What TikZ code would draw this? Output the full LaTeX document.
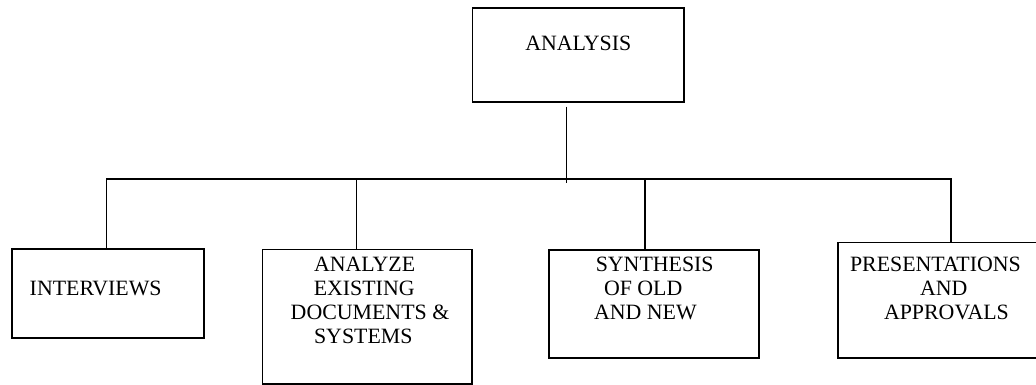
\documentclass[tikz,border=0pt]{standalone}
\usepackage{fontspec}
\setmainfont{Liberation Serif}
\begin{document}
\begin{tikzpicture}[x=0.75pt, y=-0.75pt, line width=1.1pt,
		box/.style={draw, rectangle, anchor=north west, inner sep=0pt, line width=1.4pt},
		lbl/.style={anchor=north west, inner sep=0pt, align=left, font=\fontsize{16.4}{18}\selectfont}]
		\useasboundingbox (0,0) rectangle (1036,385);
		% boxes
		\node[box, minimum width=158.4pt, minimum height=70.6pt] (analysis) at (471.5,7.3) {};
		\node[box, minimum width=144pt, minimum height=66.5pt] (interv) at (10.7,248) {};
		\node[box, minimum width=156.9pt, minimum height=101.1pt] (existing) at (261.5,248.5) {};
		\node[box, minimum width=157.3pt, minimum height=80.8pt] (synth) at (548.3,249) {};
		\node[box, minimum width=148.9pt, minimum height=86.4pt] (present) at (837,241.5) {};
		% texts
		\node[lbl, anchor=north] (analysistxt) at (578.3,35) {ANALYSIS};
		\node[lbl] (intervtxt) at (29,280) {INTERVIEWS};
		\node[lbl] (existingtxt) at (290,256.7) {\hspace*{17.5pt}ANALYZE\\ \hspace*{17.3pt}EXISTING\\ DOCUMENTS \&\\ \hspace*{17.5pt}SYSTEMS};
		\node[lbl] (synthtxt) at (593.3,256.7) {\hspace*{1.3pt}SYNTHESIS\\ \hspace*{7.5pt}OF OLD\\ AND NEW};
		\node[lbl] (presenttxt) at (849.3,256.7) {PRESENTATIONS\\ \hspace*{52.5pt}AND\\ \hspace*{25.5pt}APPROVALS};
		% connectors
		\coordinate (stemtop) at (566.7,106.7);
		\coordinate (stembot) at (566.7,183.3);
		\coordinate (busL) at (106.7,179);
		\coordinate (busR) at (951,179);
		\coordinate (j2) at (356.7,179);
		\coordinate (j3) at (645,179);
		\draw (stemtop) -- (stembot);
		\draw (busL |- interv.north) -- (busL) -- (busR) -- (busR |- present.north);
		\draw (j2) -- (j2 |- existing.north);
		\draw (j3) -- (j3 |- synth.north);
		\end{tikzpicture}
\end{document}
